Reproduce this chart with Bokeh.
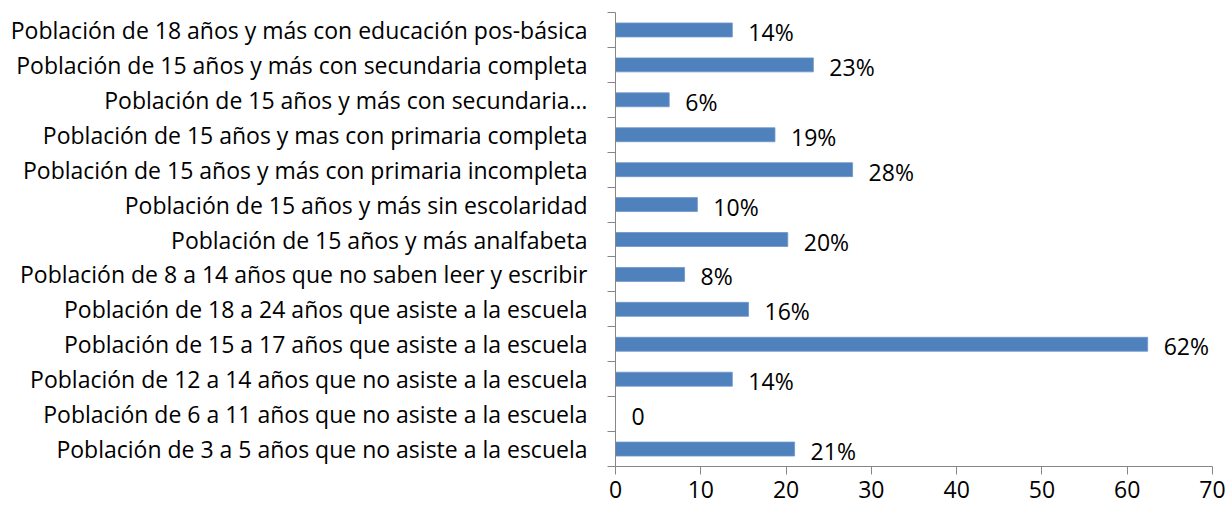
from bokeh.plotting import figure
from bokeh.models import ColumnDataSource, FixedTicker, Range1d
from bokeh.core.properties import value
from bokeh.embed import file_html
from bokeh.resources import INLINE

categories = [
    "Población de 3 a 5 años que no asiste a la escuela",
    "Población de 6 a 11 años que no asiste a la escuela",
    "Población de 12 a 14 años que no asiste a la escuela",
    "Población de 15 a 17 años que asiste a la escuela",
    "Población de 18 a 24 años que asiste a la escuela",
    "Población de 8 a 14 años que no saben leer y escribir",
    "Población de 15 años y más analfabeta",
    "Población de 15 años y más sin escolaridad",
    "Población de 15 años y más con primaria incompleta",
    "Población de 15 años y mas con primaria completa",
    "Población de 15 años y más con secundaria…",
    "Población de 15 años y más con secundaria completa",
    "Población de 18 años y más con educación pos-básica",
]
values = [21.0, 0.0, 13.7, 62.4, 15.6, 8.1, 20.2, 9.6, 27.8, 18.7, 6.3, 23.2, 13.7]
value_labels = ["21%", "0", "14%", "62%", "16%", "8%", "20%", "10%", "28%", "19%", "6%", "23%", "14%"]
x_ticks = [0, 10, 20, 30, 40, 50, 60, 70]

FONT = "Open Sans"
FS = "23px"
AXIS_COLOR = "#868686"

idx = list(range(len(categories)))
src = ColumnDataSource(dict(y=idx, v=values, lab=value_labels))

p = figure(width=1227, height=510, output_backend="svg", toolbar_location=None,
           x_range=Range1d(0, 70), y_range=Range1d(-0.5, len(categories) - 0.5),
           min_border_left=615, min_border_right=15, min_border_top=12, min_border_bottom=44)
p.outline_line_color = None
p.xgrid.grid_line_color = None
p.ygrid.grid_line_color = None
p.background_fill_color = "white"
p.border_fill_color = "white"

p.hbar(y="y", right="v", left=0, height=0.4, source=src,
       fill_color="#4F81BD", line_color="#6E97CB", line_width=0.8)

p.text(x="v", y="y", text="lab", source=src, x_offset=16, y_offset=2,
       text_font=value(FONT), text_font_size=FS, text_color="black",
       text_baseline="middle", text_align="left")

# y axis: labels at category centers, tick marks at category boundaries
ya = p.yaxis[0]
ya.ticker = FixedTicker(ticks=idx, minor_ticks=[i - 0.5 for i in range(len(categories) + 1)])
ya.major_label_overrides = {i: c for i, c in zip(idx, categories)}
ya.major_tick_out = 0
ya.major_tick_in = 0
ya.minor_tick_out = 8
ya.minor_tick_in = 0
ya.minor_tick_line_color = AXIS_COLOR
ya.axis_line_color = AXIS_COLOR
ya.major_label_standoff = 20
ya.major_label_text_font = FONT
ya.major_label_text_font_size = FS
ya.major_label_text_color = "black"

xa = p.xaxis[0]
xa.ticker = FixedTicker(ticks=x_ticks, minor_ticks=[])
xa.major_tick_out = 8
xa.major_tick_in = 0
xa.major_tick_line_color = AXIS_COLOR
xa.axis_line_color = AXIS_COLOR
xa.major_label_standoff = 6
xa.major_label_text_font = FONT
xa.major_label_text_font_size = FS
xa.major_label_text_color = "black"

open("out.html", "w").write(file_html(p, INLINE))
